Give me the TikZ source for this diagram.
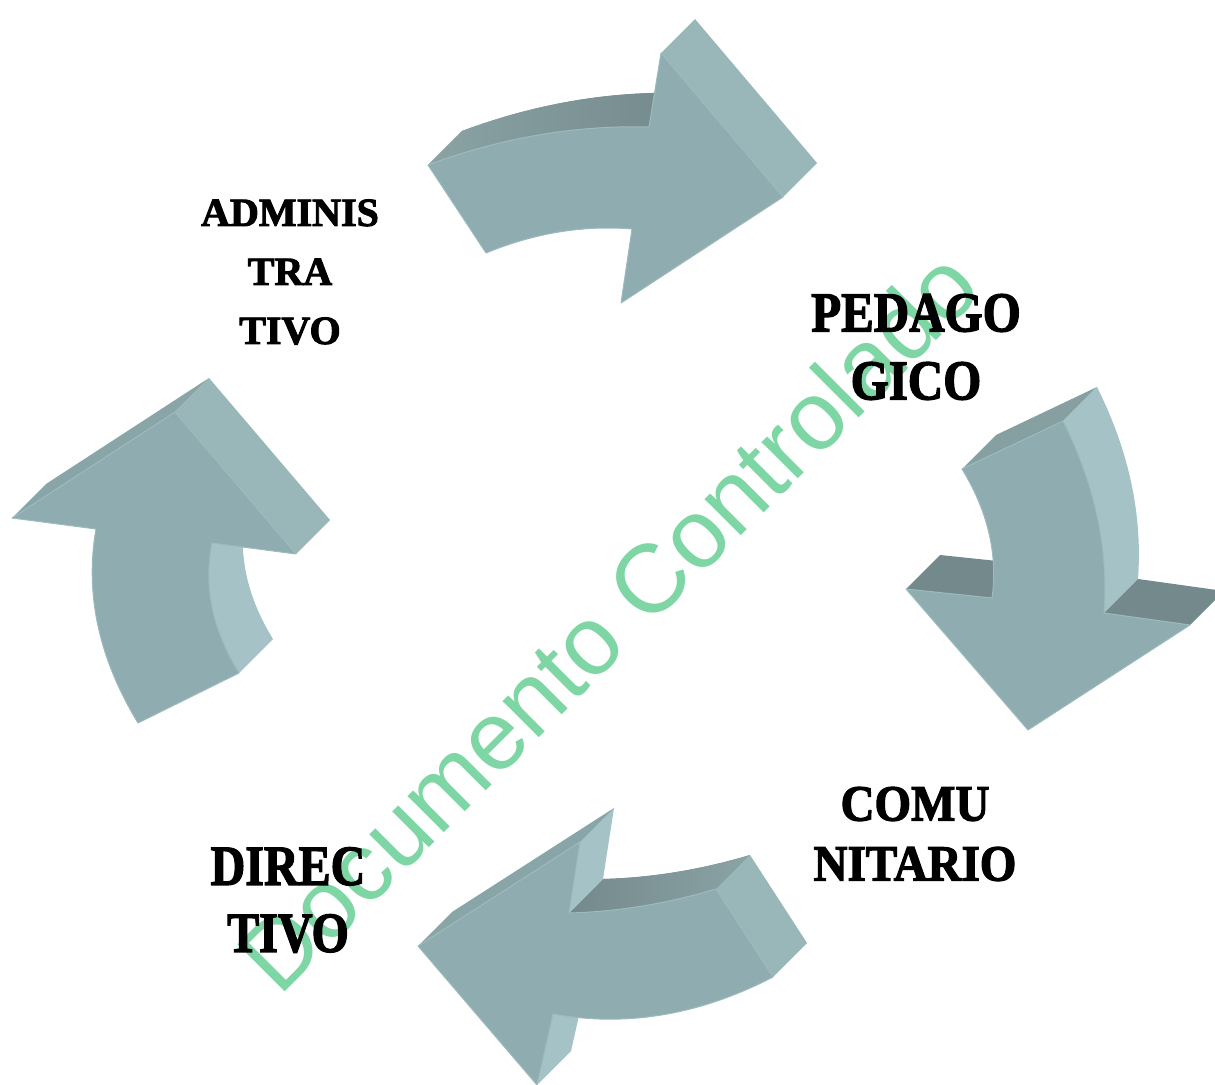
\documentclass[tikz,border=0pt]{standalone}
\usepackage{graphicx}
\usepackage{fontspec}
\setmainfont{Liberation Serif}
\newfontfamily\areafont[FakeBold=2.4]{Liberation Serif}
\newfontfamily\stampfont{Liberation Sans}
\newcommand\tallname[2]{\scalebox{1}[#1]{#2}}
\definecolor{arrowfront}{HTML}{8FADB0}
\definecolor{arrowrim}{HTML}{9DBABD}
\definecolor{arrowlight}{HTML}{A5C3C6}
\definecolor{arrowhead}{HTML}{99B6B9}
\definecolor{arrowdark}{HTML}{74898B}
\definecolor{arrowmid}{HTML}{8BA3A5}
\definecolor{arrowstrip}{HTML}{89A5A8}
\definecolor{arrowcap}{HTML}{86A0A2}
\definecolor{stampgreen}{HTML}{7DD6A3}
\tikzset{
every node/.style={align=center},
facefront/.style={fill=arrowfront, draw=arrowrim, line width=0.5pt, line join=round},
facelight/.style={fill=arrowlight},
facehead/.style={fill=arrowhead},
facetop/.style={fill=arrowdark},
facecap/.style={fill=arrowcap},
facestrip/.style={fill=arrowstrip},
areaname/.style={inner sep=0pt, text=black},
stamp/.style={inner sep=0pt, text=stampgreen, font=\stampfont\fontsize{48.5}{58}\selectfont},
}
\begin{document}
\begin{tikzpicture}[x=0.5pt, y=-0.5pt]
\useasboundingbox (0,0) rectangle (1215,1085);
\clip (0,0) rectangle (1215,1085);
% top arrow
\path[facetop, left color=arrowmid, right color=arrowdark] (428,165) .. controls (501.3,137.7) and (575,125) .. (649,127) -- (683,93) .. controls (609,91) and (535.3,103.7) .. (462,131) -- cycle;
\path[facehead] (661,53) -- (783,197) -- (817,163) -- (695,19) -- cycle;
\path[facefront] (428,165) .. controls (501.3,137.7) and (575,125) .. (649,127) -- (661,53) -- (783,197) -- (621,303) -- (632,229) .. controls (583.3,225) and (534.7,233) .. (486,253) -- cycle;
% right arrow
\path[facecap] (962,469) -- (1063,421) -- (1097,387) -- (996,435) -- cycle;
\path[facelight] (1063,421) .. controls (1095,485) and (1108.7,549) .. (1104,613) -- (1138,579) .. controls (1142.7,515) and (1129,451) .. (1097,387) -- cycle;
\path[facetop] (1104,613) -- (1190,625) -- (1224,591) -- (1138,579) -- cycle;
\path[facetop] (906,589) -- (992,598) -- (1026,564) -- (940,555) -- cycle;
\path[facefront] (992,598) .. controls (998,554.7) and (988,511.7) .. (962,469) -- (1063,421) .. controls (1095,485) and (1108.7,549) .. (1104,613) -- (1190,625) -- (1028,730) -- (906,589) -- cycle;
% bottom arrow
\path[facetop, left color=arrowdark, right color=arrowmid] (716,889) .. controls (666.7,903.7) and (617.7,911.7) .. (569,913) -- (603,879) .. controls (651.7,877.7) and (700.7,869.7) .. (750,855) -- cycle;
\path[facelight] (569,913) -- (580,842) -- (614,808) -- (603,879) -- cycle;
\path[facestrip] (580,842) -- (418,946) -- (452,912) -- (614,808) -- cycle;
\path[facelight] (537,1085) -- (553,1014) -- (587,980) -- (571,1051) -- cycle;
\path[facehead] (773,977) -- (716,889) -- (750,855) -- (807,943) -- cycle;
\path[facefront] (716,889) .. controls (666.7,903.7) and (617.7,911.7) .. (569,913) -- (580,842) -- (418,946) -- (537,1085) -- (553,1014) .. controls (626.3,1027.3) and (699.7,1015) .. (773,977) -- cycle;
% left arrow
\path[facestrip] (12,518) -- (175,412) -- (209,378) -- (46,484) -- cycle;
\path[facehead] (175,412) -- (296,554) -- (330,520) -- (209,378) -- cycle;
\path[facelight] (212,543) .. controls (203.3,586.3) and (212.3,629.7) .. (239,673) -- (273,639) .. controls (246.3,595.7) and (237.3,552.3) .. (246,509) -- cycle;
\path[facefront] (138,723) .. controls (98.7,658.3) and (84.7,593.7) .. (96,529) -- (12,518) -- (175,412) -- (296,554) -- (212,543) .. controls (203.3,586.3) and (212.3,629.7) .. (239,673) -- cycle;
% watermark and area names
\node (stamp) [stamp, anchor=base west, rotate=45] at (279,998) {Documento Controlado};
\node (adm) [areaname, font=\areafont\bfseries\fontsize{20}{29.5}\selectfont] at (290,272) {ADMINIS\\TRA\\TIVO};
\node (ped) [areaname, font=\areafont\bfseries\fontsize{24.5}{34}\selectfont] at (916,347) {\tallname{1.15}{PEDAGO}\\\tallname{1.15}{GICO}};
\node (com) [areaname, font=\areafont\bfseries\fontsize{23.5}{30}\selectfont] at (915,834) {\tallname{1.08}{COMU}\\\tallname{1.08}{NITARIO}};
\node (dir) [areaname, font=\areafont\bfseries\fontsize{24}{33.5}\selectfont] at (288,900) {\tallname{1.18}{DIREC}\\\tallname{1.18}{TIVO}};
\end{tikzpicture}
\end{document}
